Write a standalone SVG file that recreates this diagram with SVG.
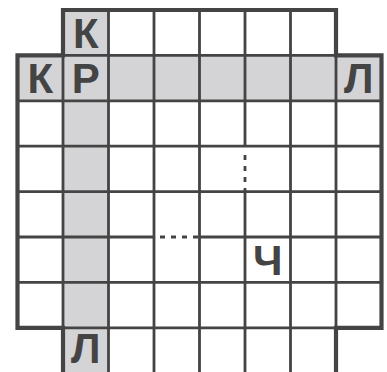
<svg xmlns="http://www.w3.org/2000/svg" width="387" height="372" viewBox="0 0 387 372">
<style>
.shade{fill:#d4d4d6}
.ln{stroke:#444;stroke-width:2.8;fill:none}
.dot{stroke:#444;stroke-width:2.8;fill:none;stroke-dasharray:5 6}
.bd{stroke:#444;stroke-width:4.2;fill:none;stroke-linejoin:miter}
.lt{font-family:"Liberation Sans",Arial,sans-serif;font-weight:bold;font-size:42px;fill:#444;text-anchor:middle}
</style>
<rect width="387" height="372" fill="#fff"/>
<g id="shading">
<rect class="shade" x="63" y="10" width="45.5" height="363.2"/>
<rect class="shade" x="17.5" y="55.4" width="364" height="45.4"/>
</g>
<g id="grid-lines">
<path class="ln" d="M63 55.4V327.8M108.5 10V373.2M154 10V373.2M199.5 10V373.2M245 10V146.2M245 191.6V373.2M290.5 10V373.2M336 55.4V327.8"/>
<path class="ln" d="M63 55.4H336M17.5 100.8H381.5M17.5 146.2H381.5M17.5 191.6H381.5M17.5 237H154M199.5 237H381.5M17.5 282.4H381.5M63 327.8H336"/>
<path class="dot" d="M245 155V191.6"/>
<path class="dot" d="M160 237H199.5"/>
</g>
<path id="border" class="bd" d="M63 10H336V55.4H381.5V327.8H336V374H63V327.8H17.5V55.4H63Z"/>
<g id="cell-k-top"><text class="lt" x="85.75" y="47.5">К</text></g>
<g id="cell-k-left"><text class="lt" x="40.25" y="93">К</text></g>
<g id="cell-r"><text class="lt" x="85.75" y="93">Р</text></g>
<g id="cell-l-right"><text class="lt" x="358.75" y="93">Л</text></g>
<g id="cell-l-bottom"><text class="lt" x="85.75" y="363" font-size="41">Л</text></g>
<g id="cell-ch"><text class="lt" x="267.75" y="275">Ч</text></g>
</svg>
